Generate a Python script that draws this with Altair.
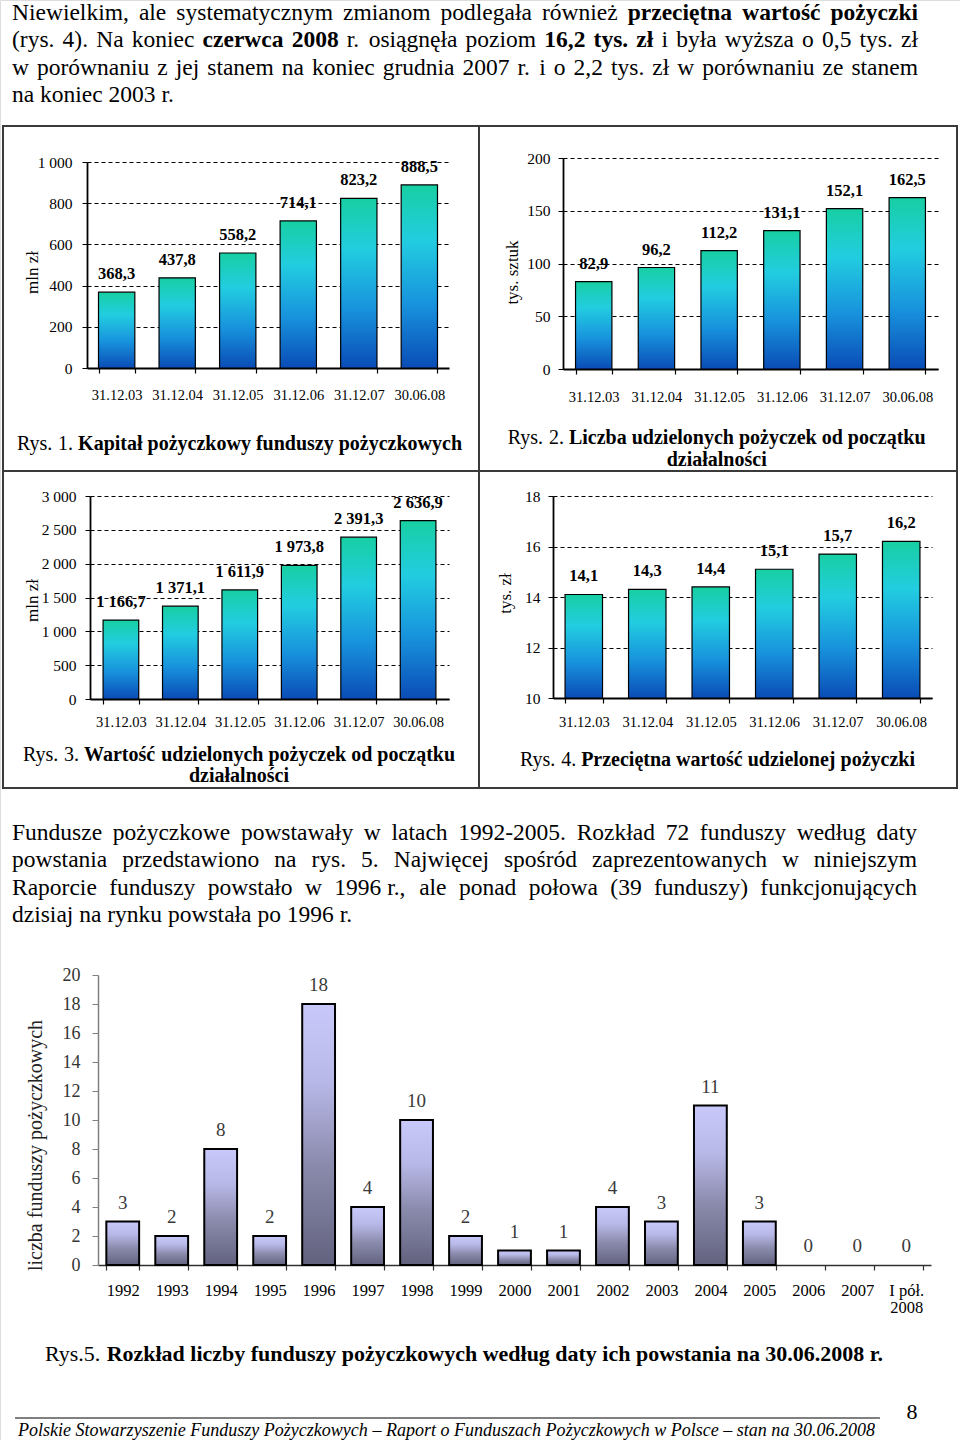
import altair as alt
import pandas as pd

# ---------------- data ----------------
dates = ["31.12.03", "31.12.04", "31.12.05", "31.12.06", "31.12.07", "30.06.08"]
capital = [368.3, 437.8, 558.2, 714.1, 823.2, 888.5]          # Rys. 1 (mln zł)
loans_count = [82.9, 96.2, 112.2, 131.1, 152.1, 162.5]        # Rys. 2 (tys. sztuk)
loans_value = [1166.7, 1371.1, 1611.9, 1973.8, 2391.3, 2636.9]  # Rys. 3 (mln zł)
avg_loan = [14.1, 14.3, 14.4, 15.1, 15.7, 16.2]               # Rys. 4 (tys. zł)

years = ["1992", "1993", "1994", "1995", "1996", "1997", "1998", "1999", "2000",
         "2001", "2002", "2003", "2004", "2005", "2006", "2007", "I pół. 2008"]
funds = [3, 2, 8, 2, 18, 4, 10, 2, 1, 1, 4, 3, 11, 3, 0, 0, 0]  # Rys. 5

ticks1 = [0, 200, 400, 600, 800, 1000]
ticks2 = [0, 50, 100, 150, 200]
ticks3 = [0, 500, 1000, 1500, 2000, 2500, 3000]
ticks4 = [10, 12, 14, 16, 18]
ticks5 = [0, 2, 4, 6, 8, 10, 12, 14, 16, 18, 20]

par1 = [
    [("Niewielkim, ale systematycznym zmianom podlegała również", "n"), ("przeciętna wartość pożyczki", "b")],
    [("(rys. 4). Na koniec", "n"), ("czerwca 2008", "b"), ("r. osiągnęła poziom", "n"),
     ("16,2 tys. zł", "b"), ("i była wyższa o 0,5 tys. zł", "n")],
    [("w porównaniu z jej stanem na koniec grudnia 2007 r. i o 2,2 tys. zł w porównaniu ze stanem", "n")],
    [("na koniec 2003 r.", "n")],
]
par2 = [
    [("Fundusze pożyczkowe powstawały w latach 1992-2005. Rozkład 72 funduszy według daty", "n")],
    [("powstania przedstawiono na rys. 5. Najwięcej spośród zaprezentowanych w niniejszym", "n")],
    [("Raporcie funduszy powstało w 1996\u00a0r., ale ponad połowa (39 funduszy) funkcjonujących", "n")],
    [("dzisiaj na rynku powstała po 1996 r.", "n")],
]
cap1 = [("Rys. 1.", "n"), ("Kapitał pożyczkowy funduszy pożyczkowych", "b")]
cap2a = [("Rys. 2.", "n"), ("Liczba udzielonych pożyczek od początku", "b")]
cap2b = [("działalności", "b")]
cap3a = [("Rys. 3.", "n"), ("Wartość udzielonych pożyczek od początku", "b")]
cap3b = [("działalności", "b")]
cap4 = [("Rys. 4.", "n"), ("Przeciętna wartość udzielonej pożyczki", "b")]
cap5 = [("Rys.5.", "n"), ("Rozkład liczby funduszy pożyczkowych według daty ich powstania na 30.06.2008 r.", "b")]
footer = [("Polskie Stowarzyszenie Funduszy Pożyczkowych – Raport o Funduszach Pożyczkowych w Polsce – stan na 30.06.2008", "i")]
page_no = [("8", "n")]

# ---------------- font metrics (Times-compatible, per 1000 em) ----------------
H = 1440
SERIF = "Liberation Serif"
_R = {" ": 250, "(": 333, ")": 333, ",": 250, "-": 333, ".": 250, ":": 278, ";": 278, "–": 500,
      "A": 722, "B": 667, "C": 667, "D": 722, "E": 611, "F": 556, "G": 722, "H": 722, "I": 333,
      "J": 389, "K": 722, "L": 611, "M": 889, "N": 722, "O": 722, "P": 556, "Q": 722, "R": 667,
      "S": 556, "T": 611, "U": 722, "V": 722, "W": 944, "X": 722, "Y": 722, "Z": 611,
      "a": 444, "b": 500, "c": 444, "d": 500, "e": 444, "f": 333, "g": 500, "h": 500, "i": 278,
      "j": 278, "k": 500, "l": 278, "m": 778, "n": 500, "o": 500, "p": 500, "q": 500, "r": 333,
      "s": 389, "t": 278, "u": 500, "v": 500, "w": 722, "x": 500, "y": 500, "z": 444}
_B = dict(_R)
_B.update({":": 333, "C": 722, "E": 667, "F": 611, "G": 778, "H": 778, "I": 389, "J": 500,
           "K": 778, "L": 667, "M": 944, "O": 778, "P": 611, "Q": 778, "R": 722, "T": 667,
           "W": 1000, "Z": 667, "a": 500, "b": 556, "d": 556, "h": 556, "j": 333, "k": 556,
           "m": 833, "n": 556, "p": 556, "q": 556, "r": 444, "t": 333, "u": 556})
_I = dict(_R)
_I.update({"F": 611, "P": 611, "R": 611, "S": 500, "W": 833, "a": 500, "f": 278, "k": 444,
           "m": 722, "r": 389, "v": 444, "w": 667, "x": 444, "y": 444, "z": 389})
_BASE = {"ą": "a", "ę": "e", "ł": "l", "ó": "o", "ś": "s", "ż": "z", "ź": "z", "ć": "c",
         "ń": "n", "Ł": "L", "Ś": "S", "Ż": "Z", "\u00a0": " "}
_TAB = {"n": _R, "b": _B, "i": _I}


def tw(text, style, size):
    tab = _TAB[style]
    return sum(tab.get(_BASE.get(c, c), 500) for c in text) * size / 1000.0


def line_rows(segs, x, y, size, anchor="left", right=None):
    toks = [(w, st) for txt, st in segs for w in txt.split(" ") if w]
    ws = [tw(w, st, size) for w, st in toks]
    gap = tw(" ", "n", size)
    if right is not None and len(toks) > 1:
        gap = (right - x - sum(ws)) / (len(toks) - 1)
    total = sum(ws) + gap * (len(toks) - 1)
    if anchor == "center":
        x = x - total / 2
    rows = []
    for (w, st), wd in zip(toks, ws):
        rows.append({"t": w, "s": st, "x": x, "y": y})
        x += wd + gap
    return rows


def seg_width(segs, size):
    toks = [(w, st) for txt, st in segs for w in txt.split(" ") if w]
    return sum(tw(w, st, size) for w, st in toks) + tw(" ", "n", size) * (len(toks) - 1)


def text_layers(rows, size, color="black"):
    df = pd.DataFrame(rows)
    out = []
    for st in ["n", "b", "i"]:
        sub = df[df["s"] == st]
        if len(sub) == 0:
            continue
        out.append(
            alt.Chart(sub).mark_text(
                align="left", baseline="alphabetic", font=SERIF, fontSize=size,
                fontWeight="bold" if st == "b" else "normal",
                fontStyle="italic" if st == "i" else "normal", color=color,
            ).encode(
                x=alt.X("x:Q", scale=None, axis=None),
                y=alt.Y("y:Q", scale=None, axis=None),
                text="t:N",
            )
        )
    return out


GRAD = alt.LinearGradient(
    gradient="linear", x1=0, x2=0, y1=0, y2=1,
    stops=[alt.GradientStop(color="#17cfa3", offset=0),
           alt.GradientStop(color="#22cde0", offset=0.3),
           alt.GradientStop(color="#1893dd", offset=0.65),
           alt.GradientStop(color="#0a4cb6", offset=1)])
GRAD5 = alt.LinearGradient(
    gradient="linear", x1=0, x2=0, y1=0, y2=1,
    stops=[alt.GradientStop(color="#c8c8fa", offset=0),
           alt.GradientStop(color="#b8b8e8", offset=0.3),
           alt.GradientStop(color="#8a8aac", offset=0.62),
           alt.GradientStop(color="#62627f", offset=1)])


def panel(cats, vals, xr, yr, ydom, yvals, ytitle, tpos, pi, po, ypad, xpad):
    df = pd.DataFrame({"d": cats, "v": vals})
    x = alt.X("d:N", sort=cats, title=None,
              scale=alt.Scale(range=list(xr), paddingInner=pi, paddingOuter=po),
              axis=alt.Axis(orient="bottom", offset=yr[0] - H, labelAngle=0, labelFont=SERIF,
                            labelFontSize=14.5, labelColor="black", labelPadding=xpad,
                            tickSize=5, tickColor="black", tickWidth=1.2, tickBand="extent",
                            domainColor="black", domainWidth=1.8, grid=False))
    y = alt.Y("v:Q", title=ytitle,
              scale=alt.Scale(domain=list(ydom), range=list(yr), nice=False, zero=False),
              axis=alt.Axis(orient="left", offset=-xr[0], values=yvals, format=",d",
                            grid=True, gridColor="black", gridDash=[4, 3], gridWidth=1,
                            domainColor="black", domainWidth=1.8, tickColor="black",
                            tickSize=5, labelFont=SERIF, labelFontSize=15.5,
                            labelColor="black", labelPadding=ypad, titleFont=SERIF,
                            titleFontSize=17, titleFontWeight="normal", titleColor="black",
                            titleAngle=270, titleAlign="center", titleBaseline="middle",
                            titleX=tpos[0] - xr[0], titleY=tpos[1]))
    base = alt.Chart(df).encode(x=x, y=y)
    bars = base.mark_bar(fill=GRAD, stroke="black", strokeWidth=1.2).encode(y2=alt.datum(ydom[0]))
    labels = base.mark_text(baseline="middle", dy=-18, font=SERIF, fontSize=16.5,
                            fontWeight="bold", color="black").encode(
        text=alt.Text("v:Q", format=",.1f"))
    return alt.layer(bars, labels)


p1 = panel(dates, capital, (87, 449), (368, 162), (0, 1000), ticks1, "mln zł", (32, 272), 0.4, 0.19, 10, 15)
p2 = panel(dates, loans_count, (563, 938), (369, 158), (0, 200), ticks2, "tys. sztuk", (512, 272), 0.42, 0.2, 8, 16)
p3 = panel(dates, loans_value, (90, 449), (699, 496), (0, 3000), ticks3, "mln zł", (32, 600), 0.4, 0.22, 9, 11)
p4 = panel(dates, avg_loan, (553, 932), (698, 496), (10, 18), ticks4, "tys. zł", (505, 593), 0.41, 0.19, 8, 12)

# ---------------- Rys. 5 ----------------
df5 = pd.DataFrame({"y": years, "n": funds})
x5 = alt.X("y:N", sort=years, title=None,
           scale=alt.Scale(range=[98, 931], paddingInner=0.33, paddingOuter=0.17),
           axis=alt.Axis(orient="bottom", offset=1265 - H, labelAngle=0, labelFont=SERIF,
                         labelFontSize=16.5, labelColor="black", labelPadding=12,
                         labelLineHeight=17,
                         labelExpr="datum.label == 'I pół. 2008' ? ['I pół.', '2008'] : datum.label",
                         tickSize=5, tickColor="#303030", tickWidth=1.2, tickBand="extent",
                         domainColor="#303030", domainWidth=1.5, grid=False))
y5 = alt.Y("n:Q", title="liczba funduszy pożyczkowych",
           scale=alt.Scale(domain=[0, 20], range=[1265, 975], nice=False),
           axis=alt.Axis(orient="left", offset=-98, values=ticks5, format="d", grid=False,
                         domainColor="#808080", domainWidth=1.5, tickColor="#808080",
                         tickSize=6, labelFont=SERIF, labelFontSize=18, labelColor="#333333",
                         labelPadding=12, titleFont=SERIF, titleFontSize=20,
                         titleFontWeight="normal", titleColor="#222222", titleAngle=270,
                         titleAlign="center", titleBaseline="middle", titleX=35 - 98,
                         titleY=1145))
base5 = alt.Chart(df5).encode(x=x5, y=y5)
bars5 = base5.mark_bar(fill=GRAD5, stroke="black", strokeWidth=2).transform_filter("datum.n > 0")
labels5 = base5.mark_text(baseline="middle", dy=-19, font=SERIF, fontSize=19,
                          color="#3a3a3a").encode(text=alt.Text("n:Q", format="d"))
p5 = alt.layer(bars5, labels5)

# ---------------- frame lines ----------------
ONE = pd.DataFrame({"k": [0]})
frame = alt.Chart(ONE).mark_rect(fill="white", fillOpacity=0, stroke="#3a3a3a", strokeWidth=2).encode(
    x=alt.value(3), x2=alt.value(957), y=alt.value(126), y2=alt.value(788))
vdiv = alt.Chart(ONE).mark_rule(color="#3a3a3a", strokeWidth=2).encode(
    x=alt.value(479), y=alt.value(126), y2=alt.value(788))
hdiv = alt.Chart(ONE).mark_rule(color="#3a3a3a", strokeWidth=2).encode(
    x=alt.value(3), x2=alt.value(957), y=alt.value(471))
frule = alt.Chart(ONE).mark_rule(color="black", strokeWidth=1).encode(
    x=alt.value(15), x2=alt.value(880), y=alt.value(1418))

# ---------------- page text ----------------
PS = 23.5
rows_p1 = []
for i, segs in enumerate(par1):
    rows_p1 += line_rows(segs, 12, 20 + i * 27.3, PS, right=918 if i < 3 else None)
rows_p2 = []
for i, segs in enumerate(par2):
    rows_p2 += line_rows(segs, 12, 839.5 + i * 27.5, PS, right=917 if i < 3 else None)

CS = 20
rows_cap = (line_rows(cap1, 239.5, 450, CS, anchor="center")
            + line_rows(cap2a, 716.7, 444, CS, anchor="center")
            + line_rows(cap2b, 716.7, 465.5, CS, anchor="center")
            + line_rows(cap3a, 239, 761, CS, anchor="center")
            + line_rows(cap3b, 239, 782, CS, anchor="center")
            + line_rows(cap4, 717.5, 766, CS, anchor="center"))

S5 = 840 * 20 / seg_width(cap5, 20)
rows_c5 = line_rows(cap5, 45, 1361, S5)
SF = 857 * 20 / seg_width(footer, 20)
rows_f = line_rows(footer, 18, 1436, SF)
rows_pg = line_rows(page_no, 912, 1419, 22, anchor="center")

texts = (text_layers(rows_p1, PS) + text_layers(rows_p2, PS) + text_layers(rows_cap, CS)
         + text_layers(rows_c5, S5) + text_layers(rows_f, SF) + text_layers(rows_pg, 22))

chart = alt.layer(p1, p2, p3, p4, p5, frame, vdiv, hdiv, frule, *texts).resolve_scale(
    x="independent", y="independent"
).resolve_axis(
    x="independent", y="independent"
).properties(
    width=960, height=H, padding=0, autosize=alt.AutoSizeParams(type="none"),
    background="white"
).configure_view(
    strokeWidth=0
).configure(
    locale={"number": {"decimal": ",", "thousands": " ", "grouping": [3], "currency": ["", " zł"]}}
)

chart.save("out.html", embed_options={"renderer": "svg", "actions": False})
